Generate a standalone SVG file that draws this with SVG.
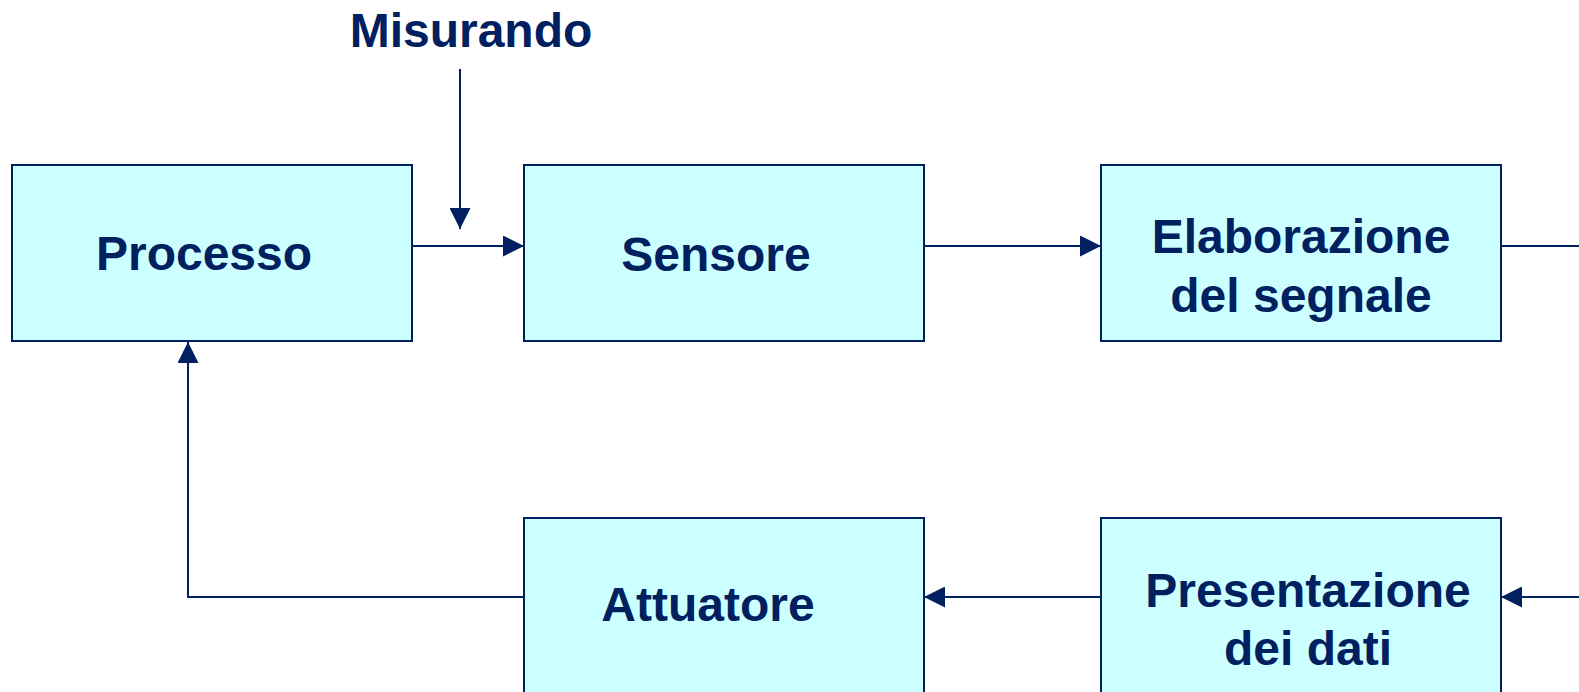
<svg xmlns="http://www.w3.org/2000/svg" width="1579" height="692" viewBox="0 0 1579 692">
<style>
.box{fill:#CCFFFF;stroke:#002060;stroke-width:2}
.lbl{font-family:"Liberation Sans",Arial,sans-serif;font-weight:bold;font-size:48px;fill:#002060;text-anchor:middle}
.wire{fill:none;stroke:#002060;stroke-width:2}
</style>
<defs>
<marker id="ah" markerUnits="userSpaceOnUse" markerWidth="21" markerHeight="21" refX="21" refY="10.5" orient="auto">
<path d="M0,0 L21,10.5 L0,21 Z" fill="#002060"/>
</marker>
</defs>
<rect width="1579" height="692" fill="#FFFFFF"/>
<g id="misurando"><text class="lbl" x="471" y="47">Misurando</text></g>
<g id="processo"><rect class="box" x="12" y="165" width="400" height="176"/><text class="lbl" x="204" y="270">Processo</text></g>
<g id="sensore"><rect class="box" x="524" y="165" width="400" height="176"/><text class="lbl" x="716" y="271">Sensore</text></g>
<g id="elaborazione"><rect class="box" x="1101" y="165" width="400" height="176"/><text class="lbl" x="1301" y="253">Elaborazione</text><text class="lbl" x="1301" y="312">del segnale</text></g>
<g id="attuatore"><rect class="box" x="524" y="518" width="400" height="190"/><text class="lbl" x="708" y="621">Attuatore</text></g>
<g id="presentazione"><rect class="box" x="1101" y="518" width="400" height="190"/><text class="lbl" x="1308" y="607">Presentazione</text><text class="lbl" x="1308" y="665">dei dati</text></g>
<g id="connectors">
<path class="wire" d="M460,69 L460,229" marker-end="url(#ah)"/>
<path class="wire" d="M412,246 L524,246" marker-end="url(#ah)"/>
<path class="wire" d="M924,246 L1101,246" marker-end="url(#ah)"/>
<path class="wire" d="M1501,246 L1579,246"/>
<path class="wire" d="M1579,597 L1501,597" marker-end="url(#ah)"/>
<path class="wire" d="M1101,597 L924,597" marker-end="url(#ah)"/>
<path class="wire" d="M524,597 L188,597 L188,342" marker-end="url(#ah)"/>
</g>
</svg>
